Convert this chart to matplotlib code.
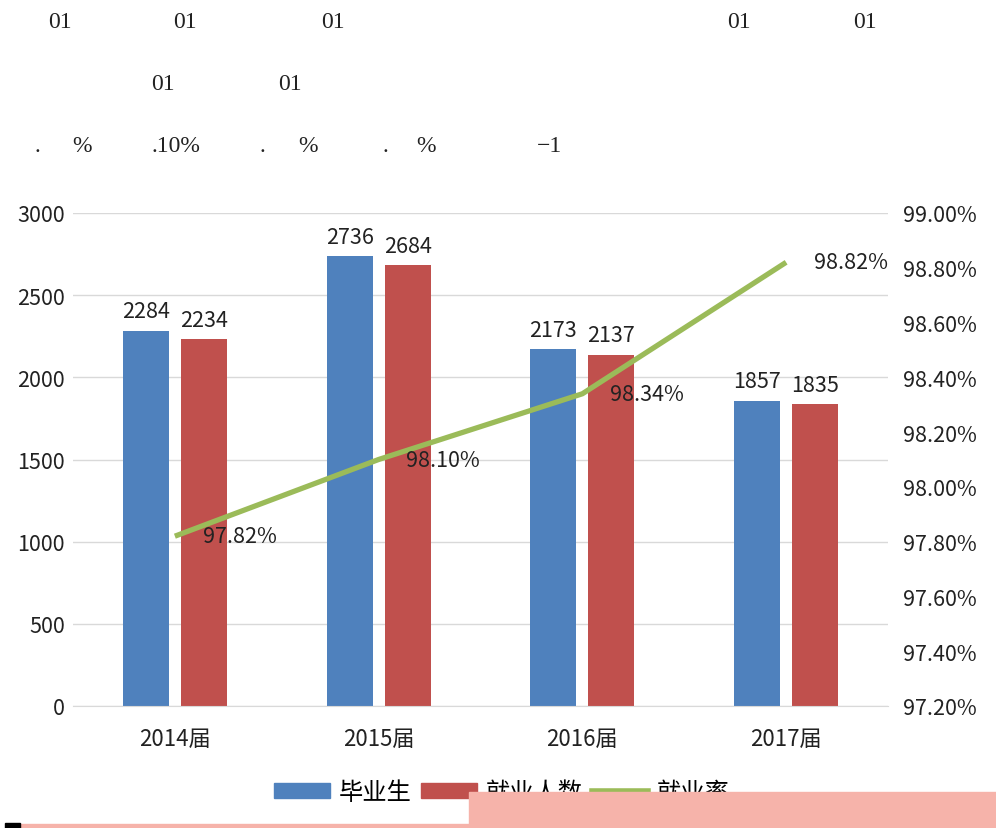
import numpy as np
import matplotlib.pyplot as plt
from matplotlib.patches import Rectangle, Patch
from matplotlib.lines import Line2D
from matplotlib.ticker import FuncFormatter

plt.rcParams['font.family'] = ['Noto Sans CJK SC', 'DejaVu Sans']

# data
years = ['2014届', '2015届', '2016届', '2017届']
graduates = [2284, 2736, 2173, 1857]
employed = [2234, 2684, 2137, 1835]
emp_rate = [97.82, 98.10, 98.34, 98.82]
series_names = ['毕业生', '就业人数', '就业率']

# stray text at top of the page
top_texts = [
    ('01', 60, 22), ('01', 185, 22), ('01', 333, 22), ('01', 739, 22), ('01', 865, 22),
    ('01', 163, 84), ('01', 290, 84),
    ('.', 37, 146), ('%', 82, 146), ('.10%', 176, 146), ('.', 262, 146), ('%', 308, 146),
    ('.', 385, 146), ('%', 426, 146), ('\u22121', 550, 146),
]

BLUE = '#4F81BD'
RED = '#C0504D'
GREEN = '#9BBB59'
PINK = '#F6B3AA'
TXT = '#222222'

W, H = 996, 829
fig = plt.figure(figsize=(W / 100, H / 100), dpi=100)

for s, px, py in top_texts:
    fig.text(px / W, 1 - py / H, s, ha='center', va='center',
             family='Liberation Serif', fontsize=17, color=TXT)

ax = fig.add_axes([73 / W, 1 - 707 / H, 815 / W, 493 / H])
ax2 = ax.twinx()

x = np.arange(len(years))
bw = 0.226
off = 0.142
b1 = ax.bar(x - off, graduates, bw, color=BLUE, zorder=2)
b2 = ax.bar(x + off, employed, bw, color=RED, zorder=2)

for bars, vals in [(b1, graduates), (b2, employed)]:
    for rect, v in zip(bars, vals):
        ax.annotate(str(v), (rect.get_x() + rect.get_width() / 2, v),
                    xytext=(0, 6), textcoords='offset points',
                    ha='center', va='bottom', fontsize=15.5, color=TXT)

ax.set_xlim(-0.5, 3.5)
ax.set_ylim(0, 3000)
ax.set_yticks(np.arange(0, 3001, 500))
ax.set_xticks(x)
ax.set_xticklabels(years, fontsize=16, color=TXT)
ax.tick_params(axis='y', labelsize=15.5, colors=TXT, length=0, pad=6)
ax.tick_params(axis='x', length=0, pad=15)
ax.grid(axis='y', color='#D9D9D9', linewidth=1, zorder=0)
ax.set_axisbelow(True)
for sp in ax.spines.values():
    sp.set_visible(False)
ax.spines['bottom'].set_visible(True)
ax.spines['bottom'].set_color('#D9D9D9')

ax2.plot(x, emp_rate, color=GREEN, linewidth=3.8, solid_capstyle='butt', zorder=3)
for xi, v in zip(x, emp_rate):
    ax2.annotate(f'{v:.2f}%', (xi, v), xytext=(20, 0), textcoords='offset points',
                 ha='left', va='center', fontsize=15.5, color=TXT, zorder=4)
ax2.set_ylim(97.2, 99.0)
ax2.set_yticks(np.arange(97.2, 99.01, 0.2))
ax2.yaxis.set_major_formatter(FuncFormatter(lambda v, p: f'{v:.2f}%'))
ax2.tick_params(axis='y', labelsize=15.5, colors=TXT, length=0, pad=11)
for sp in ax2.spines.values():
    sp.set_visible(False)
ax.set_zorder(1)
ax2.set_zorder(2)
ax2.patch.set_visible(False)

handles = [Patch(color=BLUE), Patch(color=RED), Line2D([], [], color=GREEN, linewidth=4)]
fig.legend(handles, series_names, loc='center', bbox_to_anchor=(502 / W, 1 - 793 / H),
           ncol=3, frameon=False, fontsize=17.5, handlelength=2.3, handleheight=0.55,
           columnspacing=0.4, handletextpad=0.35)

# damaged strip at the bottom of the scan
fig.patches.append(Rectangle((469 / W, 0), 1 - 469 / W, 36 / H,
                             transform=fig.transFigure, color=PINK, zorder=10))
fig.patches.append(Rectangle((20 / W, 0), 1 - 20 / W, 4 / H,
                             transform=fig.transFigure, color=PINK, zorder=10))
fig.patches.append(Rectangle((5 / W, 0), 15 / W, 5 / H,
                             transform=fig.transFigure, color='black', zorder=10))

fig.savefig('out.png', dpi=100)
